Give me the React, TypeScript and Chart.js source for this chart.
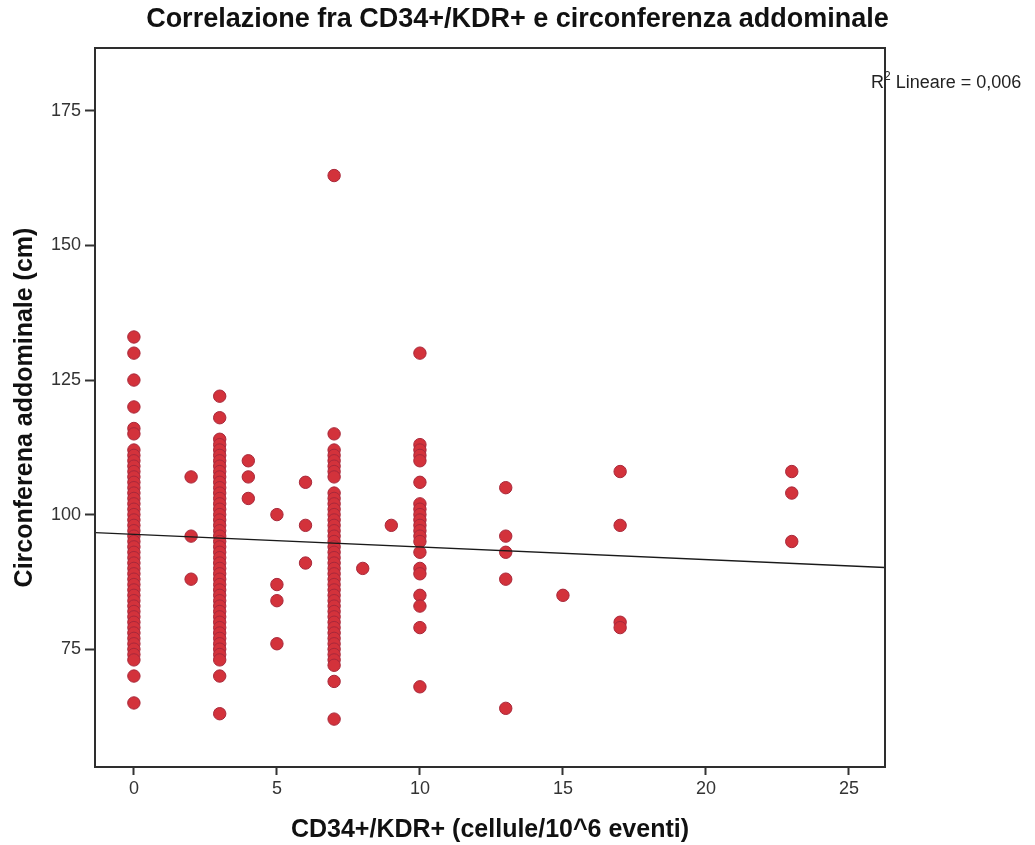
import React, { useEffect, useRef } from "react";
import { Chart, registerables } from "chart.js";

Chart.register(...registerables);

const chartTitle = "Correlazione fra CD34+/KDR+ e circonferenza addominale";
const xAxisTitle = "CD34+/KDR+ (cellule/10^6 eventi)";
const yAxisTitle = "Circonferena addominale (cm)";
const fitLabelPrefix = "R";
const fitLabelSup = "2";
const fitLabelText = " Lineare = 0,006";

const xTicks = [0, 5, 10, 15, 20, 25];
const yTicks = [75, 100, 125, 150, 175];
const xRange = [-1.36, 26.26];
const yRange = [53.1, 186.7];

// CD34+/KDR+ values (x) and the abdominal circumferences observed at each
const cellCounts = [0, 2, 3, 4, 5, 6, 7, 8, 9, 10, 13, 15, 17, 23];
const circAt0 = [133, 130, 125, 120, 116, 115, 112, 111, 110, 109, 108, 107, 106, 105, 104, 103, 102, 101, 100, 99, 98, 97, 96, 95, 94, 93, 92, 91, 90, 89, 88, 87, 86, 85, 84, 83, 82, 81, 80, 79, 78, 77, 76, 75, 74, 73, 70, 65];
const circAt2 = [107, 96, 88];
const circAt3 = [122, 118, 114, 113, 112, 111, 110, 109, 108, 107, 106, 105, 104, 103, 102, 101, 100, 99, 98, 97, 96, 95, 94, 93, 92, 91, 90, 89, 88, 87, 86, 85, 84, 83, 82, 81, 80, 79, 78, 77, 76, 75, 74, 73, 70, 63];
const circAt4 = [110, 107, 103];
const circAt5 = [100, 87, 84, 76];
const circAt6 = [106, 98, 91];
const circAt7 = [163, 115, 112, 111, 110, 109, 108, 107, 104, 103, 102, 101, 100, 99, 98, 97, 96, 95, 94, 93, 92, 91, 90, 89, 88, 87, 86, 85, 84, 83, 82, 81, 80, 79, 78, 77, 76, 75, 74, 73, 72, 69, 62];
const circAt8 = [90];
const circAt9 = [98];
const circAt10 = [130, 113, 112, 111, 110, 106, 102, 101, 100, 99, 98, 97, 96, 95, 93, 90, 89, 85, 83, 79, 68];
const circAt13 = [105, 96, 93, 88, 64];
const circAt15 = [85];
const circAt17 = [108, 98, 80, 79];
const circAt23 = [108, 104, 95];

const circByCount = [circAt0, circAt2, circAt3, circAt4, circAt5, circAt6, circAt7, circAt8, circAt9, circAt10, circAt13, circAt15, circAt17, circAt23];

// Linear fit line endpoints
const fitLineX = [-1.36, 26.26];
const fitLineY = [96.66, 90.17];

const FONT = '"Liberation Sans", Arial, Helvetica, sans-serif';

const decorPlugin = {
  id: "decor",
  afterDraw(chart: any) {
    const { ctx, chartArea: a } = chart;
    ctx.save();
    ctx.strokeStyle = "#2e2e2e";
    ctx.lineWidth = 2;
    ctx.strokeRect(a.left, a.top, a.right - a.left, a.bottom - a.top);

    ctx.fillStyle = "#111";
    ctx.font = `bold 27px ${FONT}`;
    ctx.textAlign = "center";
    ctx.textBaseline = "middle";
    ctx.fillText(chartTitle, 517.5, 20);

    ctx.textAlign = "left";
    ctx.fillStyle = "#222";
    ctx.font = `18px ${FONT}`;
    const x0 = 871;
    const y0 = 83;
    ctx.fillText(fitLabelPrefix, x0, y0);
    const wR = ctx.measureText(fitLabelPrefix).width;
    ctx.font = `12px ${FONT}`;
    ctx.fillText(fitLabelSup, x0 + wR, y0 - 6);
    const w2 = ctx.measureText(fitLabelSup).width;
    ctx.font = `18px ${FONT}`;
    ctx.fillText(fitLabelText, x0 + wR + w2, y0);
    ctx.restore();
  },
};

export default function App() {
  const canvasRef = useRef<HTMLCanvasElement | null>(null);

  useEffect(() => {
    if (!canvasRef.current) return;
    const points: { x: number; y: number }[] = [];
    cellCounts.forEach((cx, i) => {
      circByCount[i].forEach((cy) => points.push({ x: cx, y: cy }));
    });
    const fitPoints = fitLineX.map((x, i) => ({ x, y: fitLineY[i] }));

    const chart = new Chart(canvasRef.current, {
      type: "scatter",
      data: {
        datasets: [
          {
            type: "scatter",
            data: points,
            backgroundColor: "#d3323b",
            borderColor: "#a8283a",
            borderWidth: 1,
            pointRadius: 6.2,
            pointHoverRadius: 6.2,
            order: 2,
          },
          {
            type: "line",
            data: fitPoints,
            borderColor: "#1a1a1a",
            borderWidth: 1.3,
            pointRadius: 0,
            fill: false,
            order: 1,
          } as any,
        ],
      },
      options: {
        animation: false,
        responsive: false,
        maintainAspectRatio: false,
        layout: { padding: { left: 0, right: 150, top: 48, bottom: 0 } },
        plugins: {
          legend: { display: false },
          tooltip: { enabled: false },
          title: { display: false },
        },
        scales: {
          x: {
            type: "linear",
            min: xRange[0],
            max: xRange[1],
            afterBuildTicks: (scale: any) => {
              scale.ticks = xTicks.map((v) => ({ value: v }));
            },
            afterFit: (scale: any) => {
              scale.height = 78;
            },
            border: { display: false },
            grid: {
              display: true,
              drawOnChartArea: false,
              drawTicks: true,
              tickLength: 8,
              tickWidth: 2,
              tickColor: "#333",
              color: "#333",
            },
            ticks: {
              padding: 3,
              color: "#333",
              font: { family: FONT, size: 18 },
              maxRotation: 0,
              autoSkip: false,
            },
            title: {
              display: true,
              text: xAxisTitle,
              color: "#111",
              font: { family: FONT, size: 25, weight: "bold" },
              padding: { top: 0, bottom: 0 },
            },
          },
          y: {
            type: "linear",
            min: yRange[0],
            max: yRange[1],
            afterBuildTicks: (scale: any) => {
              scale.ticks = yTicks.map((v) => ({ value: v }));
            },
            afterFit: (scale: any) => {
              scale.width = 95;
            },
            border: { display: false },
            grid: {
              display: true,
              drawOnChartArea: false,
              drawTicks: true,
              tickLength: 10,
              tickWidth: 2,
              tickColor: "#333",
              color: "#333",
            },
            ticks: {
              padding: 4,
              color: "#333",
              font: { family: FONT, size: 18 },
              autoSkip: false,
            },
            title: {
              display: true,
              text: yAxisTitle,
              color: "#111",
              font: { family: FONT, size: 25, weight: "bold" },
              padding: { top: 10, bottom: 0 },
            },
          },
        },
      },
      plugins: [decorPlugin],
    });
    return () => chart.destroy();
  }, []);

  return (
    <div style={{ position: "absolute", left: 0, top: 0, width: 1035, height: 845, background: "#fff" }}>
      <canvas ref={canvasRef} width={1035} height={845} style={{ width: 1035, height: 845, display: "block" }} />
    </div>
  );
}
